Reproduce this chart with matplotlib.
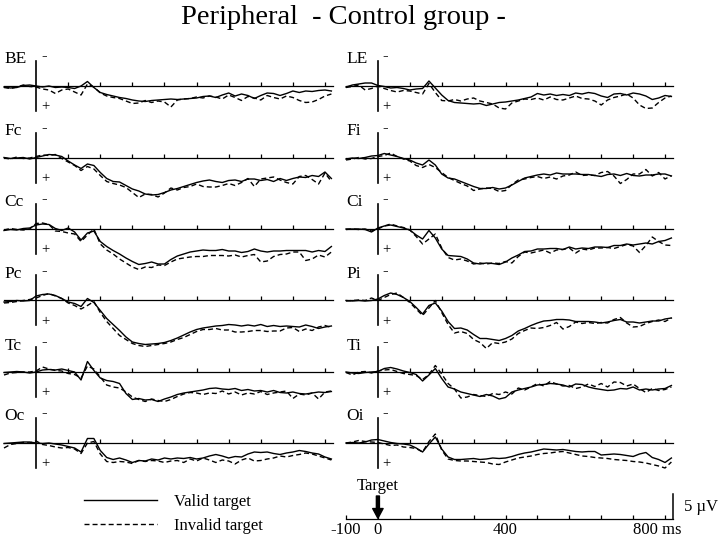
import numpy as np
import matplotlib
matplotlib.use('Agg')
import matplotlib.pyplot as plt
from matplotlib.transforms import blended_transform_factory

plt.rcParams['font.family'] = ['Liberation Serif', 'DejaVu Serif']

# ---------------- data (µV, positive plotted downward) ----------------
times = np.arange(-100, 921, 20)

channels_left = ['BE', 'Fc', 'Cc', 'Pc', 'Tc', 'Oc']
channels_right = ['LE', 'Fi', 'Ci', 'Pi', 'Ti', 'Oi']

BE_valid = [0.2, 0.4, 0.3, -0.1, -0.2,
            0.0, 0.2, 0.0, 0.3, 0.2, 0.3, 0.5, 0.0, -0.9, 0.3,
            1.3, 1.7, 2.0, 2.3, 2.5, 2.8, 3.0, 3.1, 2.9, 2.8,
            2.7, 2.6, 2.7, 2.6, 2.5, 2.4, 2.1, 2.0, 2.3, 1.8,
            1.4, 2.0, 1.6, 1.9, 2.5, 1.9, 1.4, 1.5, 1.9, 1.5,
            1.0, 1.3, 1.0, 1.1, 0.9, 0.8, 1.0]
BE_invalid = [0.3, 0.5, 0.2, -0.2, 0.1,
              0.2, 0.6, 0.8, 1.5, 0.8, 0.6, 1.2, 1.8, -0.4, 0.2,
              1.4, 2.0, 2.3, 2.5, 3.0, 3.5, 3.4, 2.9, 3.3, 3.0,
              3.2, 4.2, 2.8, 2.6, 2.5, 2.2, 2.4, 2.0, 2.2, 2.6,
              1.8, 2.3, 2.9, 2.1, 2.4, 2.8, 1.9, 2.3, 2.6, 2.0,
              2.3, 2.9, 3.3, 3.2, 2.7, 2.0, 1.6]
LE_valid = [0.2, -0.2, -0.4, -0.6, -0.6,
            -0.1, 0.1, 0.4, 0.3, 0.5, 0.8, 0.6, 0.5, -1.0, 0.4,
            1.8, 2.9, 3.3, 3.4, 3.5, 3.6, 3.5, 3.9, 3.6, 3.3,
            3.2, 3.0, 2.8, 2.5, 2.2, 1.5, 1.8, 1.6, 1.9, 1.7,
            1.9, 1.4, 1.6, 1.3, 1.5, 2.0, 2.3, 1.6, 1.5, 1.8,
            1.4, 1.6, 2.0, 2.7, 2.4, 1.9, 2.1]
LE_invalid = [0.3, 0.1, -0.2, 0.8, 0.5,
              0.0, 0.5, 0.9, 1.2, 0.9, 1.0, 1.3, 1.6, -0.5, 1.3,
              2.9, 3.0, 2.7, 3.0, 2.6, 2.4, 3.0, 3.3, 3.6, 4.4,
              4.6, 3.4, 3.0, 2.6, 2.7, 2.4, 2.8, 2.2, 2.7, 2.8,
              2.4, 2.0, 2.5, 2.6, 3.0, 3.8, 2.8, 2.3, 2.0, 1.6,
              2.4, 3.8, 4.5, 4.4, 3.3, 2.4, 2.0]
Fc_valid = [0.0, 0.2, 0.1, 0.0, 0.3,
            0.0, -0.3, -0.6, -0.5, -0.2, 0.7, 1.5, 2.2, 1.3, 1.6,
            3.0, 4.2, 4.8, 4.9, 5.6, 6.3, 6.7, 7.3, 7.5, 7.4,
            7.0, 6.5, 6.2, 5.8, 5.4, 5.0, 4.7, 4.5, 4.8, 5.0,
            4.6, 4.5, 4.8, 4.3, 4.3, 4.6, 4.4, 4.8, 4.2, 4.6,
            4.2, 3.9, 4.0, 3.6, 3.8, 2.9, 4.2]
Fc_invalid = [0.1, 0.3, -0.1, 0.2, 0.1,
              -0.2, -0.5, -0.4, -0.6, 0.2, 0.9, 1.6, 2.6, 1.8, 2.3,
              3.6, 4.8, 5.2, 5.5, 6.0, 7.0, 8.0, 7.3, 7.4, 7.9,
              7.1, 6.1, 6.5, 6.0, 5.8, 5.3, 5.8, 5.9, 5.9, 5.6,
              5.2, 5.6, 5.0, 4.2, 5.8, 4.3, 4.1, 3.9, 4.5, 5.0,
              5.3, 3.8, 3.6, 4.4, 5.3, 3.1, 4.8]
Fi_valid = [0.3, 0.1, 0.2, 0.0, -0.3,
            -0.4, -0.8, -0.5, -0.2, 0.2, 0.5, 1.1, 1.5, 0.5, 1.5,
            3.3, 4.1, 4.3, 4.8, 5.3, 5.8, 6.2, 6.2, 6.0, 6.3,
            6.1, 5.5, 4.8, 4.1, 3.8, 3.5, 3.3, 3.5, 3.1, 3.3,
            3.3, 3.3, 3.4, 3.4, 3.6, 3.8, 3.4, 3.3, 3.6, 3.2,
            3.6, 3.7, 3.5, 3.5, 3.3, 3.3, 3.7]
Fi_invalid = [0.5, 0.3, 0.0, 0.3, 0.2,
              -0.2, -0.4, -0.9, -0.2, 0.3, 0.7, 1.6, 2.0, 1.4, 2.0,
              3.0, 4.0, 4.6, 5.2, 5.7, 6.6, 6.3, 6.1, 6.2, 6.8,
              6.6, 5.4, 4.5, 4.3, 4.0, 3.8, 4.2, 3.9, 4.3, 3.7,
              3.5, 2.9, 3.6, 3.5, 3.6, 3.0, 2.8, 3.7, 5.2, 4.4,
              3.3, 3.3, 2.4, 3.7, 3.0, 4.3, 3.6]
Cc_valid = [0.3, 0.1, 0.2, -0.1, -0.2,
            -0.8, -1.0, -0.9, -0.1, 0.3, -0.2, 0.6, 2.2, 0.8, 0.4,
            2.5, 3.5, 4.3, 5.0, 5.8, 6.5, 7.1, 6.9, 6.6, 7.0,
            7.0, 6.1, 5.4, 5.0, 4.6, 4.4, 4.2, 4.3, 4.3, 4.1,
            4.4, 4.4, 4.7, 4.5, 4.0, 4.4, 4.6, 4.4, 4.4, 4.3,
            4.3, 4.3, 4.3, 4.6, 4.3, 4.5, 3.5]
Cc_invalid = [0.2, -0.1, 0.1, 0.2, 0.0,
              -1.1, -1.2, -0.9, 0.4, 0.5, 0.8, 1.0, 2.5, 1.2, 0.0,
              3.0, 4.2, 5.0, 6.0, 6.8, 7.6, 8.1, 7.6, 7.7, 7.2,
              7.3, 6.6, 6.0, 5.8, 5.6, 5.5, 5.5, 5.3, 5.3, 5.3,
              5.4, 5.2, 5.6, 5.3, 5.1, 6.6, 6.4, 5.5, 5.1, 5.0,
              4.6, 4.6, 6.3, 6.0, 5.2, 5.6, 4.6]
Ci_valid = [0.0, 0.0, 0.0, 0.1, 0.6,
            -0.2, -0.6, -0.8, -0.5, -0.2, 0.2, 1.2, 2.0, 0.3, 1.8,
            4.0, 5.3, 5.4, 5.5, 6.0, 6.8, 7.0, 6.8, 6.9, 7.1,
            6.6, 5.8, 5.2, 4.5, 4.4, 4.0, 4.0, 3.9, 3.9, 4.1,
            3.6, 4.0, 3.8, 3.9, 3.6, 3.6, 3.7, 3.3, 3.3, 3.0,
            3.2, 3.0, 2.8, 3.0, 2.5, 2.3, 1.8]
Ci_invalid = [0.1, 0.0, 0.1, 0.0, 0.4,
              0.0, -0.6, -1.0, -0.6, -0.3, 0.2, 1.5, 3.0, 2.0, 1.0,
              3.8, 5.7, 6.2, 6.0, 6.4, 7.0, 6.8, 7.0, 6.8, 6.9,
              6.5, 6.8, 5.5, 4.6, 4.8, 4.5, 4.2, 4.8, 4.2, 4.1,
              3.8, 4.8, 4.0, 4.2, 3.8, 3.8, 3.7, 3.9, 3.5, 3.1,
              3.4, 4.7, 3.3, 1.6, 2.5, 3.2, 3.3]
Pc_valid = [0.3, 0.2, 0.0, 0.1, 0.0,
            -0.9, -1.2, -1.3, -1.0, -0.4, 0.3, 0.6, 1.2, -0.4, 0.4,
            2.0, 3.6, 4.8, 6.0, 7.3, 8.3, 8.6, 8.8, 8.7, 8.6,
            8.4, 8.0, 7.5, 6.9, 6.3, 5.8, 5.5, 5.3, 5.1, 5.0,
            4.8, 4.9, 5.1, 4.9, 5.1, 4.8, 5.2, 5.0, 5.2, 5.1,
            5.2, 5.3, 4.9, 5.2, 5.6, 5.3, 5.1]
Pc_invalid = [0.5, 0.4, 0.2, 0.0, -0.2,
              -0.5, -1.0, -1.4, -0.9, -0.4, 0.5, 1.0, 1.7, 1.0, 0.2,
              2.4, 4.2, 5.6, 7.0, 7.8, 8.6, 9.0, 9.2, 9.0, 8.8,
              8.6, 8.3, 7.8, 7.4, 6.8, 6.2, 5.8, 5.8, 5.6, 5.9,
              5.9, 6.3, 6.3, 6.2, 6.0, 6.0, 6.2, 6.1, 6.1, 5.5,
              5.4, 6.2, 5.7, 6.0, 5.3, 5.0, 5.4]
Pi_valid = [0.0, 0.1, 0.0, 0.1, 0.0,
            -0.3, -1.0, -1.5, -1.2, -0.6, 0.2, 1.4, 2.7, 1.0, 0.5,
            2.1, 4.2, 5.6, 5.5, 5.9, 6.8, 7.6, 7.6, 7.8, 8.0,
            7.6, 7.0, 6.1, 5.6, 5.0, 4.5, 4.1, 4.0, 3.8, 3.8,
            3.9, 4.2, 4.2, 4.2, 4.3, 4.5, 4.3, 4.0, 3.8, 4.3,
            4.3, 4.5, 4.3, 4.1, 4.1, 3.7, 3.5]
Pi_invalid = [0.1, 0.0, -0.1, 0.0, -0.5,
              0.0, -0.6, -1.2, -1.5, -0.6, 0.4, 1.7, 3.0, 1.5, 0.0,
              2.4, 4.8, 6.5, 6.2, 6.6, 7.8, 8.4, 9.6, 8.4, 8.6,
              8.3, 7.7, 6.6, 6.0, 5.5, 5.6, 5.4, 5.0, 4.4, 5.7,
              5.2, 4.3, 4.6, 4.4, 4.6, 4.4, 4.5, 3.8, 3.4, 4.5,
              5.3, 5.2, 4.6, 4.2, 3.9, 4.2, 3.5]
Tc_valid = [0.1, 0.0, -0.1, 0.0, 0.2,
            0.0, -0.4, -0.5, -0.4, -0.6, -0.3, 0.0, 1.6, -2.1, -0.3,
            1.2, 1.7, 1.9, 2.3, 4.3, 5.5, 5.3, 5.6, 5.5, 5.9,
            5.4, 5.0, 4.5, 4.2, 4.0, 3.8, 3.6, 3.3, 3.2, 3.4,
            3.5, 3.3, 3.7, 3.5, 3.8, 3.7, 4.0, 3.7, 4.1, 4.2,
            4.0, 4.3, 4.4, 4.2, 4.0, 4.1, 3.9]
Tc_invalid = [0.6, 0.2, 0.1, 0.0, 0.0,
              -0.2, -1.0, -0.6, -0.3, -0.2, 0.3, 0.5, 1.2, -1.2, -0.6,
              1.0, 2.6, 3.0, 3.2, 4.0, 5.0, 5.5, 5.9, 5.4, 5.7,
              5.9, 5.5, 4.9, 4.4, 4.1, 4.2, 4.5, 4.2, 4.3, 3.8,
              4.4, 4.0, 4.6, 4.2, 4.4, 3.9, 4.5, 4.2, 4.0, 3.8,
              5.3, 4.4, 4.6, 4.2, 5.4, 4.0, 3.8]
Ti_valid = [0.0, 0.2, 0.3, 0.1, 0.0,
            -0.1, -0.7, -0.9, -0.6, -0.2, 0.1, 0.5, 1.8, 0.6, -0.7,
            1.3, 3.0, 3.4, 4.0, 4.3, 4.6, 4.9, 4.5, 4.8, 5.4,
            5.1, 4.0, 3.6, 3.3, 3.0, 2.6, 2.5, 2.3, 2.4, 2.6,
            3.0, 2.4, 2.5, 3.0, 3.3, 3.5, 3.7, 3.6, 3.3, 3.4,
            3.0, 3.6, 3.4, 3.6, 3.4, 3.3, 2.7]
Ti_invalid = [0.1, 0.6, 0.0, -0.1, 0.2,
              -0.2, -0.4, -0.5, -0.1, 0.3, 0.5, 0.7, 1.5, 0.5, -1.3,
              0.4, 2.3, 3.4, 5.2, 5.0, 4.5, 4.7, 4.9, 4.3, 4.5,
              4.0, 4.4, 3.2, 3.6, 3.0, 2.3, 2.8, 1.9, 2.4, 2.8,
              2.7, 3.3, 3.0, 2.4, 2.9, 2.3, 3.0, 2.0, 2.1, 2.8,
              2.4, 3.3, 4.1, 3.3, 3.7, 3.5, 3.0]
Oc_valid = [0.1, 0.0, -0.1, -0.2, -0.2,
            0.0, 0.1, 0.0, 0.2, 0.4, 0.7, 1.0, 1.8, -0.9, -0.9,
            1.5, 2.9, 3.3, 3.0, 3.4, 3.9, 3.5, 3.6, 3.2, 3.4,
            3.0, 3.2, 3.0, 3.1, 2.9, 3.2, 3.0, 2.6, 2.3, 2.6,
            3.0, 2.7, 2.8, 2.2, 1.8, 1.9, 1.8, 2.1, 2.3, 2.0,
            1.8, 1.5, 1.7, 2.0, 2.2, 2.8, 3.2]
Oc_invalid = [1.0, 0.3, 0.1, -0.1, 0.0,
              -0.4, 0.3, 0.5, 0.8, 1.0, 0.9, 1.2, 2.1, 0.0, -0.3,
              2.2, 3.7, 3.9, 3.7, 3.8, 4.1, 3.5, 3.7, 3.5, 3.6,
              3.9, 3.6, 3.5, 3.9, 3.2, 3.6, 3.0, 3.4, 3.9, 3.4,
              3.6, 4.2, 3.4, 3.0, 3.6, 3.5, 3.2, 3.0, 2.6, 2.8,
              2.5, 2.3, 2.0, 2.2, 2.6, 3.0, 3.4]
Oi_valid = [0.0, -0.1, 0.0, -0.2, -0.6,
            -0.7, -0.4, -0.1, 0.1, 0.2, 0.4, 1.0, 1.8, 0.2, -1.2,
            1.2, 2.8, 3.3, 3.3, 3.2, 3.1, 3.3, 3.2, 3.0, 3.1,
            3.0, 2.7, 2.3, 2.0, 1.8, 1.5, 1.2, 1.3, 1.4, 1.3,
            1.5, 1.7, 1.8, 1.7, 1.7, 2.4, 2.3, 2.2, 2.3, 2.5,
            2.7, 2.2, 1.9, 2.9, 3.3, 3.9, 3.0]
Oi_invalid = [0.0, -0.2, -0.5, -0.3, -0.2,
              -0.1, 0.2, 0.5, 0.4, 0.8, 0.9, 1.1, 1.8, -0.3, -1.8,
              1.4, 3.2, 3.5, 3.6, 3.6, 3.7, 3.8, 3.9, 4.2, 4.3,
              3.8, 3.4, 3.0, 2.8, 2.6, 2.3, 2.1, 2.0, 1.8, 1.7,
              2.0, 2.3, 2.6, 2.7, 2.9, 3.0, 3.1, 3.3, 3.4, 3.5,
              3.7, 3.8, 4.0, 4.3, 4.6, 5.0, 3.8]

valid = {'BE': BE_valid, 'LE': LE_valid, 'Fc': Fc_valid, 'Fi': Fi_valid,
         'Cc': Cc_valid, 'Ci': Ci_valid, 'Pc': Pc_valid, 'Pi': Pi_valid,
         'Tc': Tc_valid, 'Ti': Ti_valid, 'Oc': Oc_valid, 'Oi': Oi_valid}
invalid = {'BE': BE_invalid, 'LE': LE_invalid, 'Fc': Fc_invalid, 'Fi': Fi_invalid,
           'Cc': Cc_invalid, 'Ci': Ci_invalid, 'Pc': Pc_invalid, 'Pi': Pi_invalid,
           'Tc': Tc_invalid, 'Ti': Ti_invalid, 'Oc': Oc_invalid, 'Oi': Oi_invalid}

time_ticks = list(range(-100, 901, 100))
time_labels = {-100: '-100', 0: '0', 400: '400', 800: '800 ms'}
legend_labels = ['Valid target', 'Invalid target']
title = 'Peripheral  - Control group -'

# ---------------- layout ----------------
W, H = 720, 539
fig = plt.figure(figsize=(7.2, 5.39), dpi=100)
fig.patch.set_facecolor('white')


def rect(x, ytop, w, h):
    return [x / W, 1 - (ytop + h) / H, w / W, h / H]


baselines = [86, 157.5, 229, 300.5, 372, 443]
col_x = [4, 346]
col_w = [329, 327]
XMAX = 925
DASH = (0, (3.6, 2.2))
LW = 1.0

handles = None
for col, chans in enumerate([channels_left, channels_right]):
    for row, ch in enumerate(chans):
        b = baselines[row]
        ax = fig.add_axes(rect(col_x[col], b - 30, col_w[col], 80))
        ax.set_xlim(-100, XMAX)
        ax.set_ylim(10, -6)
        ax.patch.set_visible(False)
        for s in ['top', 'right']:
            ax.spines[s].set_visible(False)
        ax.spines['bottom'].set_position(('data', 0))
        ax.spines['left'].set_position(('data', 0))
        ax.spines['left'].set_bounds(-5, 5)
        ax.spines['left'].set_linewidth(1.2)
        ax.spines['bottom'].set_linewidth(0.9)
        ax.set_xticks(range(100, 901, 100))
        ax.set_xticklabels([])
        ax.tick_params(axis='x', direction='in', length=3, width=0.9)
        ax.set_yticks([])
        lv, = ax.plot(times, valid[ch], color='black', lw=LW, clip_on=False)
        li, = ax.plot(times, invalid[ch], color='black', lw=LW, ls=DASH,
                      clip_on=False)
        if handles is None:
            handles = [lv, li]
        tr = blended_transform_factory(ax.transAxes, ax.transData)
        ax.text(0.002, -5.3, ch, transform=tr, ha='left', va='center',
                fontsize=12.5)
        ax.text(15, -5.9, '-', ha='left', va='center', fontsize=12)
        ax.text(15, 4.2, '+', ha='left', va='center', fontsize=10.5)

fig.text(343.5 / W, 1 - 17 / H, title, ha='center', va='center', fontsize=20.5)

fig.legend(handles, legend_labels, loc='upper left',
           bbox_to_anchor=(84 / W, 1 - 494 / H), frameon=False,
           handlelength=4.4, handletextpad=1.0, labelspacing=0.45,
           fontsize=12, borderpad=0, borderaxespad=0)

# time scale axis
ax_t = fig.add_axes(rect(346, 480, 327, 50))
ax_t.set_xlim(-100, XMAX)
ax_t.set_ylim(-2.2, 7.8)
ax_t.patch.set_visible(False)
for s in ['top', 'right', 'left']:
    ax_t.spines[s].set_visible(False)
ax_t.spines['bottom'].set_position(('data', 0))
ax_t.spines['bottom'].set_linewidth(0.9)
ax_t.set_yticks([])
ax_t.set_xticks(time_ticks)
ax_t.set_xticklabels([time_labels.get(t, '') for t in time_ticks])
ax_t.tick_params(axis='x', direction='in', length=3, width=0.9,
                 labelsize=12, pad=2)
for lab, t in zip(ax_t.get_xticklabels(), time_ticks):
    if t == 800:
        lab.set_horizontalalignment('left')

ax_t.annotate('', xy=(0, 0.15), xytext=(0, 4.6),
              arrowprops=dict(facecolor='black', edgecolor='black',
                              width=2.2, headwidth=7.5, headlength=7, shrink=0))
ax_t.text(0, 6.6, 'Target', ha='center', va='center', fontsize=12)
ax_t.plot([XMAX, XMAX], [0, 5], color='black', lw=1.1, clip_on=False)
ax_t.text(960, 2.4, '5 µV', ha='left', va='center', fontsize=12)

fig.savefig('out.png', dpi=100)
